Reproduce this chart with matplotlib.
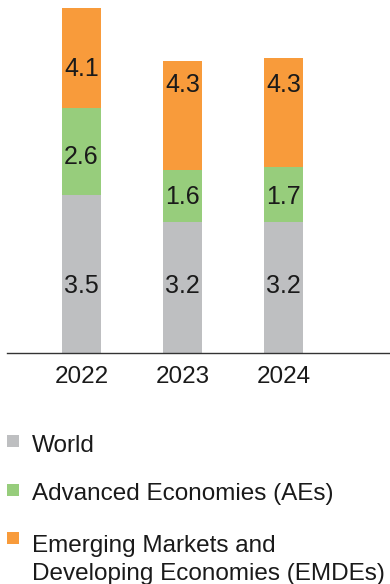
import matplotlib
matplotlib.use("Agg")
import matplotlib.pyplot as plt
from matplotlib.patches import Rectangle

# ---- data ----
years = ["2022", "2023", "2024"]
series_names = ["World", "Advanced Economies (AEs)",
                "Emerging Markets and\nDeveloping Economies (EMDEs)"]
# printed values
world_vals = [3.5, 3.2, 3.2]
ae_vals = [2.6, 1.6, 1.7]
emde_vals = [4.1, 4.3, 4.3]
# drawn segment heights as they appear in the picture (same unit as World 2022)
world_h = [3.50, 2.91, 2.91]
ae_h = [1.93, 1.15, 1.21]
emde_h = [2.20, 2.40, 2.41]

# ---- style ----
colors = ["#BEBFC1", "#97CD7C", "#F89B3B"]
text_color = "#1a1a1a"
plt.rcParams["font.family"] = ["Liberation Sans", "DejaVu Sans"]

W, H = 390, 584
fig = plt.figure(figsize=(W / 100, H / 100), dpi=100)
base_px = 353.3
ax = fig.add_axes([7 / W, (H - base_px) / H, 383 / W, base_px / H])

x = list(range(len(years)))
bw = 0.386
b1 = world_h
b2 = [a + b for a, b in zip(world_h, ae_h)]
ax.bar(x, world_h, width=bw, color=colors[0], linewidth=0)
ax.bar(x, ae_h, width=bw, bottom=b1, color=colors[1], linewidth=0)
ax.bar(x, emde_h, width=bw, bottom=b2, color=colors[2], linewidth=0)

ppu = 45.23
ax.set_ylim(0, base_px / ppu)
ax.set_xlim(-0.738, 3.054)

# value label baselines (in data units)
lab_world = [1.34, 1.34, 1.34]
lab_ae = [4.18, 3.29, 3.29]
lab_emde = [6.12, 5.77, 5.77]
for vals, ys in ((world_vals, lab_world), (ae_vals, lab_ae), (emde_vals, lab_emde)):
    for xi, v, yy in zip(x, vals, ys):
        ax.text(xi, yy, f"{v:.1f}", ha="center", va="baseline",
                fontsize=18, color=text_color)

for s in ("top", "right", "left"):
    ax.spines[s].set_visible(False)
ax.spines["bottom"].set_color("#333333")
ax.spines["bottom"].set_linewidth(1.0)
ax.set_yticks([])
ax.set_xticks(x)
ax.set_xticklabels(years, fontsize=17.5, color=text_color)
ax.tick_params(axis="x", length=0, pad=9)

# ---- legend (manual) ----
def fx(px):
    return px / W

def fy(py):
    return 1 - py / H

sq_tops = [435, 484, 532]
baselines = [452.3, 500, 580]
for name, c, st, bl in zip(series_names, colors, sq_tops, baselines):
    fig.patches.append(Rectangle((fx(7), fy(st + 12)), 12 / W, 12 / H,
                                 transform=fig.transFigure, facecolor=c,
                                 edgecolor="none"))
    fig.text(fx(32), fy(bl), name, fontsize=17.5, color=text_color,
             ha="left", va="baseline", linespacing=1.38)

fig.savefig("out.png", dpi=100)
